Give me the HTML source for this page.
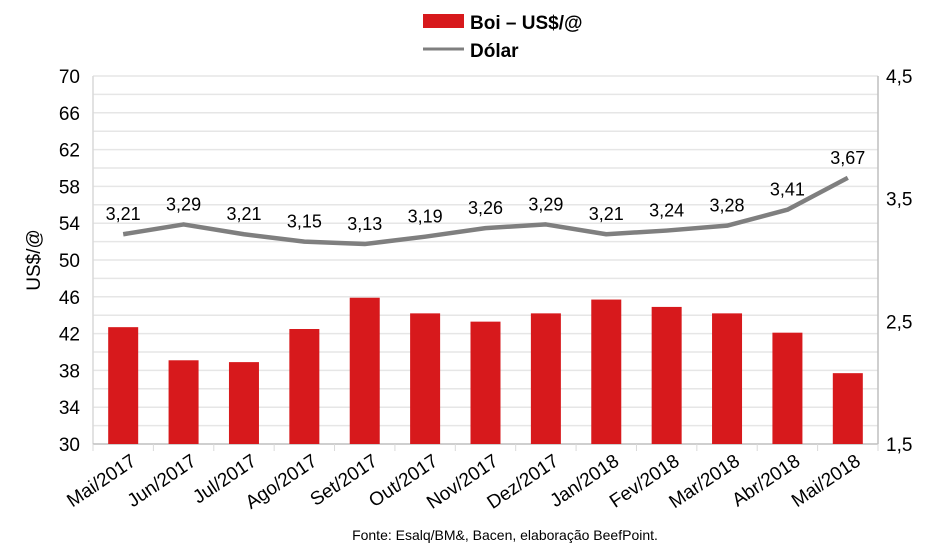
<!DOCTYPE html><html><head><meta charset="utf-8"><style>body{margin:0;background:#fff}svg{display:block}</style></head><body>
<svg width="931" height="550" xmlns="http://www.w3.org/2000/svg" font-family="Liberation Sans, sans-serif">
<g id="grid" stroke="#e6e6e6" stroke-width="1.5"></g>
<line x1="93" y1="76" x2="93" y2="444" stroke="#d9d9d9" stroke-width="1.5"/>
<line x1="878" y1="76" x2="878" y2="444" stroke="#bfbfbf" stroke-width="1.5"/>
<line x1="93" y1="444" x2="878" y2="444" stroke="#bfbfbf" stroke-width="1.5"/>
<g id="bars" fill="#d7191c"></g>
<g id="ticks" stroke="#d9d9d9" stroke-width="1"></g>
<polyline id="line" fill="none" stroke="#7f7f7f" stroke-width="4.5" stroke-linejoin="round"/>
<g id="lbl" font-size="18" text-anchor="middle" fill="#000"></g>
<g id="yl" font-size="19" text-anchor="end"></g>
<g id="yr" font-size="19"></g>
<g id="xl" font-size="19" text-anchor="end"></g>
<text x="40" y="260" font-size="19" text-anchor="middle" transform="rotate(-90 40 260)">US$/@</text>
<rect x="423" y="14" width="41" height="14" fill="#d7191c"/>
<text x="470" y="29" font-size="19" font-weight="bold">Boi – US$/@</text>
<line x1="423" y1="49" x2="464" y2="49" stroke="#7f7f7f" stroke-width="3"/>
<text x="470" y="57" font-size="19" font-weight="bold">Dólar</text>
<text x="505" y="540" font-size="14" text-anchor="middle">Fonte: Esalq/BM&amp;, Bacen, elaboração BeefPoint.</text>
</svg>
<script>
const ns="http://www.w3.org/2000/svg";
function el(p,t,a,txt){const e=document.createElementNS(ns,t);for(const k in a)e.setAttribute(k,a[k]);if(txt!==undefined)e.textContent=txt;document.getElementById(p).appendChild(e);}
const Y=v=>444-(v-30)*9.2, YR=v=>444-(v-1.5)*122.667;
for(let v=32;v<=70;v+=2)el("grid","line",{x1:93,x2:878,y1:Y(v),y2:Y(v)});
for(let v=30;v<=70;v+=4)el("yl","text",{x:80,y:Y(v)+7},v);
[1.5,2.5,3.5,4.5].forEach(v=>el("yr","text",{x:886,y:YR(v)+7},String(v).replace('.',',')));
const cats=["Mai/2017","Jun/2017","Jul/2017","Ago/2017","Set/2017","Out/2017","Nov/2017","Dez/2017","Jan/2018","Fev/2018","Mar/2018","Abr/2018","Mai/2018"];
const bars=[42.7,39.1,38.9,42.5,45.9,44.2,43.3,44.2,45.7,44.9,44.2,42.1,37.7];
const dol=[3.21,3.29,3.21,3.15,3.13,3.19,3.26,3.29,3.21,3.24,3.28,3.41,3.67];
const w=785/13;let pts=[];
for(let i=0;i<=13;i++)el("ticks","line",{x1:93+i*w,x2:93+i*w,y1:444,y2:451});
cats.forEach((c,i)=>{const cx=93+w*(i+0.5);
el("bars","rect",{x:cx-15,y:Y(bars[i]),width:30,height:444-Y(bars[i])});
pts.push(cx+","+YR(dol[i]));
el("lbl","text",{x:cx,y:YR(dol[i])-14},String(dol[i].toFixed(2)).replace('.',','));
el("xl","text",{x:cx+14,y:464,transform:`rotate(-34 ${cx+14} 464)`},c);});
document.getElementById("line").setAttribute("points",pts.join(" "));
</script></body></html>
